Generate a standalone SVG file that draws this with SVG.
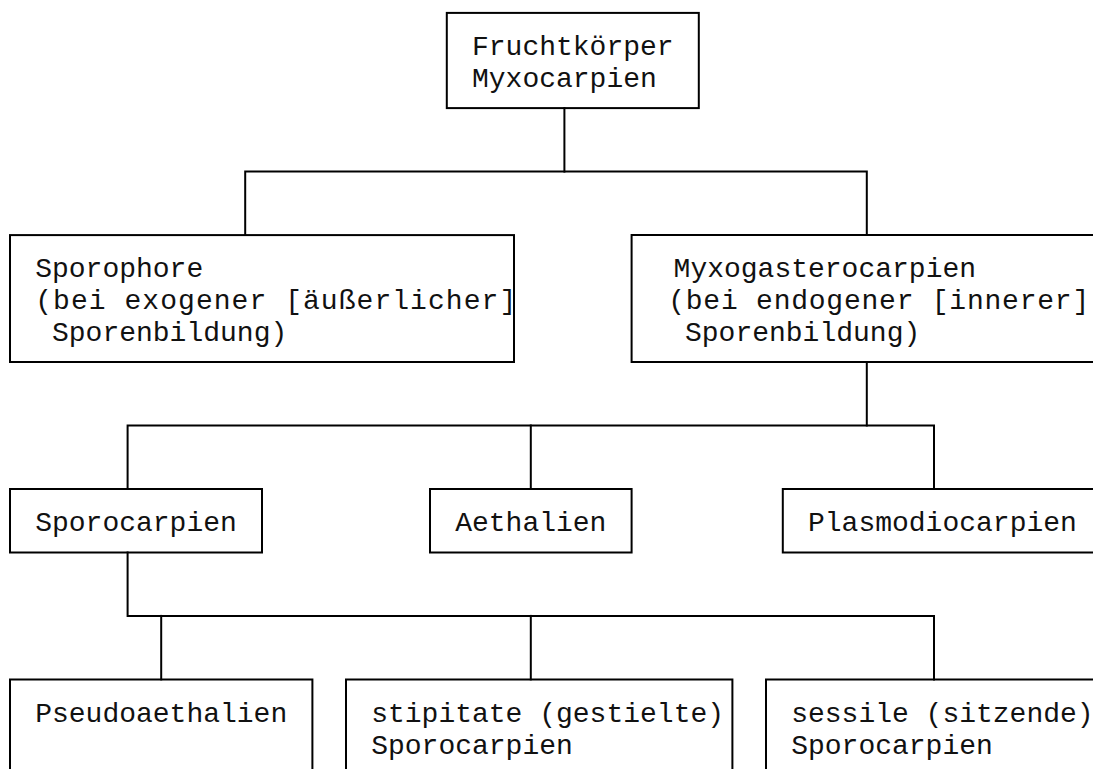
<svg xmlns="http://www.w3.org/2000/svg" width="1093" height="769" viewBox="0 0 1093 769">
<style>
.b{fill:none;stroke:#000;stroke-width:2;stroke-linejoin:miter;stroke-linecap:square}
.t{font-family:"Liberation Mono","Courier New",monospace;font-size:28px;fill:#111}
</style>
<rect x="0" y="0" width="1093" height="769" fill="#fff"/>
<g id="connectors">
<path class="b" d="M564.4,108.1V171.6"/>
<path class="b" d="M245.2,235.1V171.6H866.8V235.1"/>
<path class="b" d="M866.8,362V425.5"/>
<path class="b" d="M127.6,489V425.5H934V489"/>
<path class="b" d="M530.8,425.5V489"/>
<path class="b" d="M127.6,552.5V615.9H934V679.4"/>
<path class="b" d="M161.2,615.9V679.4"/>
<path class="b" d="M530.8,615.9V679.4"/>
</g>
<g id="fruchtkoerper">
<rect class="b" x="446.8" y="12.9" width="252" height="95.2"/>
<text class="t" x="472" y="55.2">Fruchtkörper</text>
<text class="t" x="472" y="87">Myxocarpien</text>
</g>
<g id="sporophore">
<rect class="b" x="10" y="235.1" width="504" height="126.9"/>
<text class="t" x="35.2" y="277.4">Sporophore</text>
<text class="t" x="35.2" y="309.2" textLength="481" lengthAdjust="spacing">(bei exogener [äußerlicher]</text>
<text class="t" x="52" y="340.9">Sporenbildung)</text>
</g>
<g id="myxogasterocarpien">
<path class="b" d="M1093,235.1H631.6V362H1093"/>
<text class="t" x="673.6" y="277.4">Myxogasterocarpien</text>
<text class="t" x="668.2" y="309.2" textLength="421" lengthAdjust="spacing">(bei endogener [innerer]</text>
<text class="t" x="685" y="340.9">Sporenbildung)</text>
</g>
<g id="sporocarpien">
<rect class="b" x="10" y="489" width="252" height="63.5"/>
<text class="t" x="35.2" y="531.3">Sporocarpien</text>
</g>
<g id="aethalien">
<rect class="b" x="430" y="489" width="201.6" height="63.5"/>
<text class="t" x="455.2" y="531.3">Aethalien</text>
</g>
<g id="plasmodiocarpien">
<path class="b" d="M1093,489H782.8V552.5H1093"/>
<text class="t" x="808" y="531.3">Plasmodiocarpien</text>
</g>
<g id="pseudoaethalien">
<path class="b" d="M10,770V679.4H312.4V770"/>
<text class="t" x="35.2" y="721.8">Pseudoaethalien</text>
</g>
<g id="stipitate">
<path class="b" d="M346,770V679.4H732.4V770"/>
<text class="t" x="371.2" y="721.8">stipitate (gestielte)</text>
<text class="t" x="371.2" y="753.5">Sporocarpien</text>
</g>
<g id="sessile">
<path class="b" d="M766,770V679.4H1094"/>
<text class="t" x="791.2" y="721.8">sessile (sitzende)</text>
<text class="t" x="791.2" y="753.5">Sporocarpien</text>
</g>
</svg>
